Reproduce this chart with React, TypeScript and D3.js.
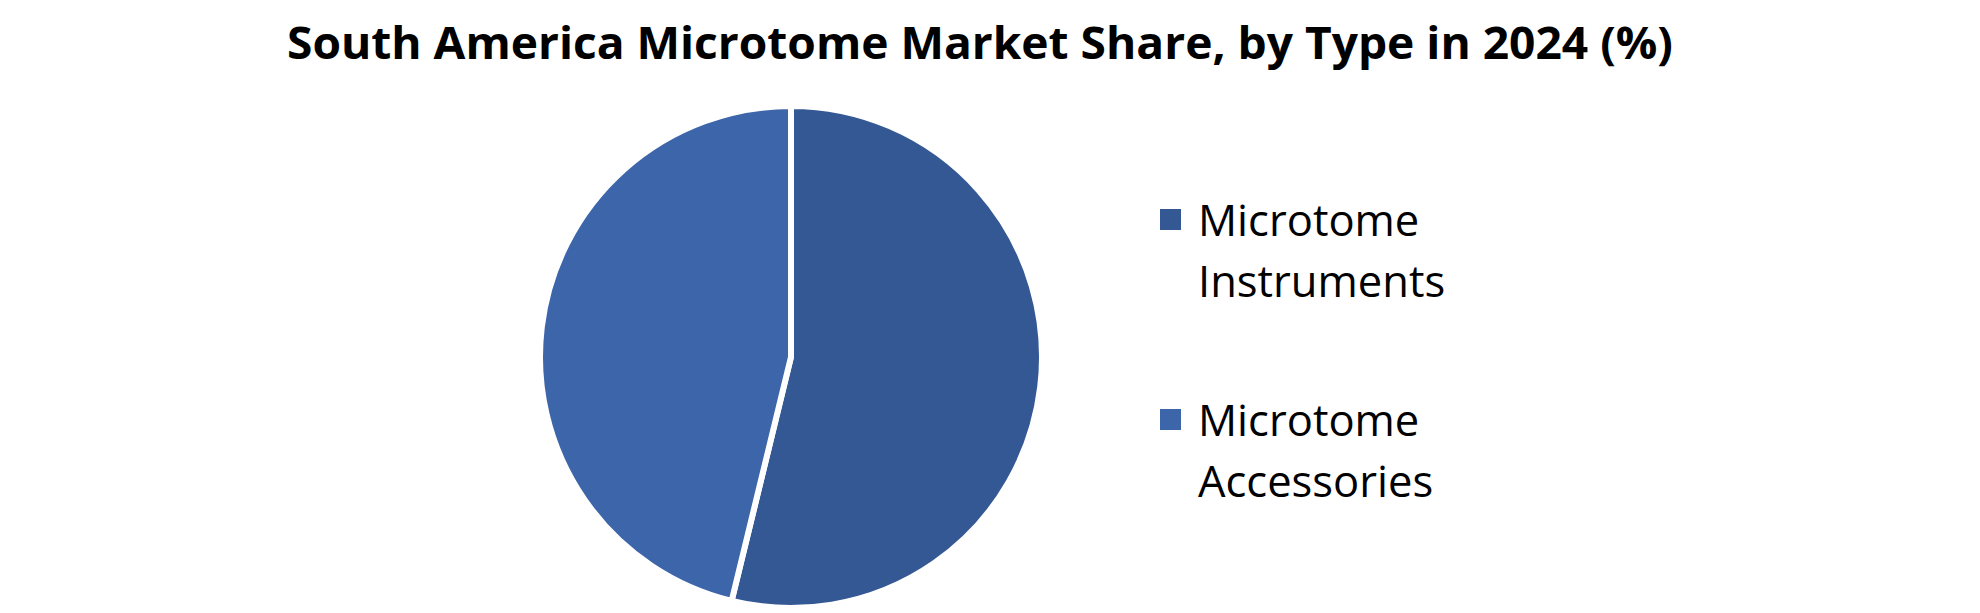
import React, { useRef, useEffect } from 'react';
import * as d3 from 'd3';

const TITLE = 'South America Microtome Market Share, by Type in 2024 (%)';
const CATEGORIES = ['Microtome Instruments', 'Microtome Accessories'];
const LEGEND_LINES = [['Microtome', 'Instruments'], ['Microtome', 'Accessories']];
const SHARES = [53.8, 46.2];
const COLORS = ['#335894', '#3d65aa'];

const WIDTH = 1980;
const HEIGHT = 613;

export default function App() {
  const svgRef = useRef<SVGSVGElement>(null);

  useEffect(() => {
    const svg = d3.select(svgRef.current);
    svg.selectAll('*').remove();

    // Title
    svg.append('text')
      .attr('x', 980).attr('y', 59)
      .attr('text-anchor', 'middle')
      .attr('font-family', '"Open Sans", Lato, sans-serif')
      .attr('font-weight', 'bold')
      .attr('font-size', '45px')
      .attr('textLength', 1386)
      .attr('lengthAdjust', 'spacingAndGlyphs')
      .attr('fill', '#000')
      .text(TITLE);

    // Pie
    const cx = 791, cy = 357, radius = 251;
    const pie = d3.pie<number>().sort(null).value(d => d);
    const arc = d3.arc<d3.PieArcDatum<number>>().innerRadius(0).outerRadius(radius);

    const g = svg.append('g').attr('transform', `translate(${cx},${cy})`);
    g.selectAll('path')
      .data(pie(SHARES))
      .join('path')
      .attr('d', arc)
      .attr('fill', (_, i) => COLORS[i])
      .attr('stroke', '#fff')
      .attr('stroke-width', 6)
      .attr('stroke-linejoin', 'miter');

    // Legend
    const legend = svg.append('g');
    const rowY = [236, 436];
    CATEGORIES.forEach((cat, i) => {
      const row = legend.append('g').attr('transform', `translate(1160,${rowY[i]})`).attr('data-name', cat);
      row.append('rect')
        .attr('x', 0).attr('y', -27)
        .attr('width', 21).attr('height', 21)
        .attr('fill', COLORS[i]);
      LEGEND_LINES[i].forEach((line, j) => {
        row.append('text')
          .attr('x', 38).attr('y', j * 61)
          .attr('font-family', '"Open Sans", Lato, sans-serif')
          .attr('font-size', '43.5px')
          .attr('fill', '#000')
          .text(line);
      });
    });
  }, []);

  return (
    <svg
      ref={svgRef}
      width={WIDTH}
      height={HEIGHT}
      viewBox={`0 0 ${WIDTH} ${HEIGHT}`}
      style={{ display: 'block', position: 'absolute', left: 0, top: 0, background: '#fff' }}
    />
  );
}
